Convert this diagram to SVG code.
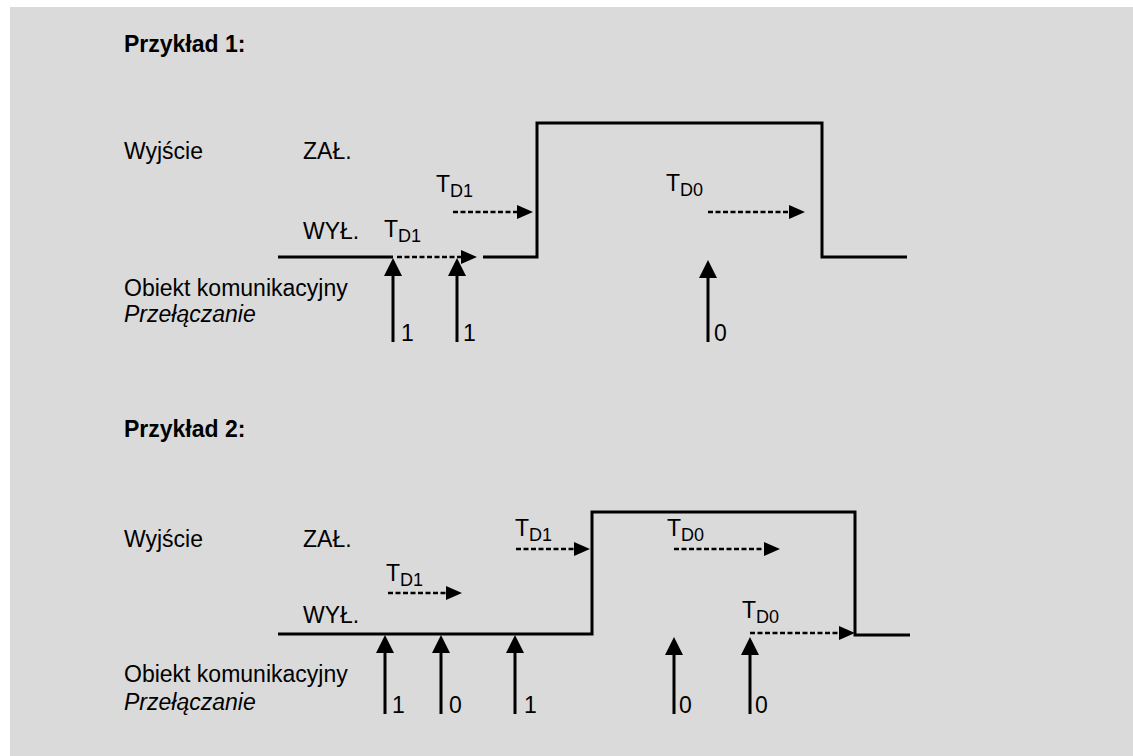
<svg xmlns="http://www.w3.org/2000/svg" width="1133" height="756" viewBox="0 0 1133 756">
<style>
text{font-family:"Liberation Sans",Arial,Helvetica,sans-serif;font-size:23px;fill:#000}
.b{font-weight:bold}
.i{font-style:italic}
.s{font-size:18px}
.sig{fill:none;stroke:#000;stroke-width:3}
.dash{fill:none;stroke:#000;stroke-width:2.5;stroke-dasharray:5 2.5}
.ev{fill:none;stroke:#000;stroke-width:3}
</style>
<defs>
<marker id="hA" markerUnits="userSpaceOnUse" markerWidth="16" markerHeight="14" refX="6" refY="7" orient="auto"><path d="M0,0 L16,7 L0,14 z" fill="#000"/></marker>
<marker id="vA" markerUnits="userSpaceOnUse" markerWidth="18" markerHeight="18" refX="8" refY="9" orient="auto"><path d="M0,0 L18,9 L0,18 z" fill="#000"/></marker>
</defs>
<rect x="10" y="7" width="1123" height="749" fill="#dadada"/>

<g id="example1">
<text class="b" x="124" y="52">Przykład 1:</text>
<text x="124" y="159">Wyjście</text>
<text x="303" y="159">ZAŁ.</text>
<text x="303" y="239">WYŁ.</text>
<text x="124" y="296">Obiekt komunikacyjny</text>
<text class="i" x="124" y="322">Przełączanie</text>
<text x="436" y="192">T<tspan class="s" dy="5">D1</tspan></text>
<text x="384" y="237">T<tspan class="s" dy="5">D1</tspan></text>
<text x="666" y="191">T<tspan class="s" dy="5">D0</tspan></text>
<text x="401" y="341">1</text>
<text x="463" y="341">1</text>
<text x="714" y="341">0</text>
</g>
<g id="signal1">
<polyline class="sig" points="278,257 393,257"/>
<polyline class="sig" points="483,257 537,257 537,123 822,123 822,257 907,257"/>
</g>
<g id="connectors1">
<line class="dash" x1="397" y1="257" x2="467" y2="257" marker-end="url(#hA)"/>
<line class="dash" x1="453" y1="212" x2="523" y2="212" marker-end="url(#hA)"/>
<line class="dash" x1="708" y1="212" x2="795" y2="212" marker-end="url(#hA)"/>
<line class="ev" x1="393" y1="342" x2="393" y2="268" marker-end="url(#vA)"/>
<line class="ev" x1="457" y1="342" x2="457" y2="268" marker-end="url(#vA)"/>
<line class="ev" x1="708" y1="342" x2="708" y2="270" marker-end="url(#vA)"/>
</g>

<g id="example2">
<text class="b" x="124" y="437">Przykład 2:</text>
<text x="124" y="547">Wyjście</text>
<text x="303" y="547">ZAŁ.</text>
<text x="303" y="623">WYŁ.</text>
<text x="124" y="682">Obiekt komunikacyjny</text>
<text class="i" x="124" y="710">Przełączanie</text>
<text x="386" y="581">T<tspan class="s" dy="5">D1</tspan></text>
<text x="515" y="536">T<tspan class="s" dy="5">D1</tspan></text>
<text x="667" y="536">T<tspan class="s" dy="5">D0</tspan></text>
<text x="742" y="618">T<tspan class="s" dy="5">D0</tspan></text>
<text x="392" y="713">1</text>
<text x="449" y="713">0</text>
<text x="524" y="713">1</text>
<text x="679" y="713">0</text>
<text x="755" y="713">0</text>
</g>
<g id="signal2">
<polyline class="sig" points="278,634 592,634 592,512 855,512 855,635 910,635"/>
</g>
<g id="connectors2">
<line class="dash" x1="388" y1="593" x2="452" y2="593" marker-end="url(#hA)"/>
<line class="dash" x1="516" y1="549" x2="580" y2="549" marker-end="url(#hA)"/>
<line class="dash" x1="674" y1="549" x2="770" y2="549" marker-end="url(#hA)"/>
<line class="dash" x1="750" y1="633" x2="845" y2="633" marker-end="url(#hA)"/>
<line class="ev" x1="385" y1="714" x2="385" y2="645" marker-end="url(#vA)"/>
<line class="ev" x1="441" y1="714" x2="441" y2="645" marker-end="url(#vA)"/>
<line class="ev" x1="515" y1="714" x2="515" y2="645" marker-end="url(#vA)"/>
<line class="ev" x1="674" y1="714" x2="674" y2="647" marker-end="url(#vA)"/>
<line class="ev" x1="750" y1="714" x2="750" y2="647" marker-end="url(#vA)"/>
</g>
</svg>
